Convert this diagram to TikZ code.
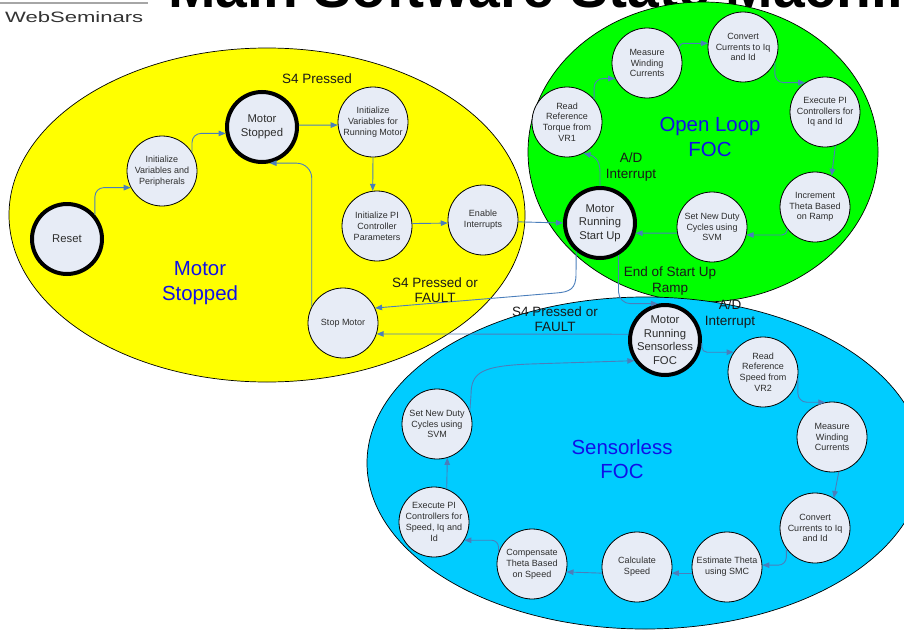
\documentclass[tikz,border=0pt]{standalone}
\usepackage{fontspec}
\setmainfont{Liberation Sans}
\usetikzlibrary{arrows.meta}
\definecolor{nodefill}{RGB}{231,236,246}
\definecolor{connc}{RGB}{74,126,187}
\definecolor{ylw}{RGB}{255,255,0}
\definecolor{grn}{RGB}{0,255,0}
\definecolor{sky}{RGB}{0,204,255}
\definecolor{regblue}{RGB}{16,16,232}
\definecolor{ntext}{RGB}{45,45,45}
\begin{document}
\begin{tikzpicture}[x=1pt,y=-1pt,
  st/.style={circle,draw=black,line width=0.8pt,fill=nodefill,minimum size=70pt,inner sep=-8pt,align=center,text=ntext,font=\fontsize{9}{10.8}\selectfont},
  kst/.style={st,line width=4pt,font=\fontsize{11.3}{13.5}\selectfont},
  conn/.style={draw=connc,line width=0.9pt,-{Triangle[length=7pt,width=5.5pt]}},
  rc/.style={rounded corners=#1},
  elab/.style={align=center,font=\fontsize{13.5}{15.5}\selectfont,text=black!90},
  reg/.style={align=center,font=\fontsize{20.4}{24.5}\selectfont,text=regblue},
  region/.style={draw=black,line width=0.7pt}]
\useasboundingbox (0,0) rectangle (904,629);
\clip (0,0) rectangle (904,629);
\fill[white] (0,0) rectangle (904,629);

% header
\draw[gray!70,line width=1.5pt] (0,3) -- (148,3);
\node[anchor=west,inner sep=0pt,text=black!80] (brand) at (5,17.5) {\scalebox{1.47}[1]{\fontsize{15}{15}\selectfont WebSeminars}};
\node[anchor=base west,inner sep=0pt,text=black,font=\fontsize{57}{60}\selectfont\bfseries] (title) at (168,8) {Main Software State Machine};

% regions
\path[region,fill=ylw] (267,215) ellipse [x radius=258,y radius=167];
\path[region,fill=grn] (703,152) ellipse [x radius=175,y radius=150];
\path[region,fill=sky] (645,463) ellipse [x radius=278,y radius=166];

\node[reg] (lstop) at (200,283) {Motor\\Stopped};
\node[reg] (lopen) at (710,137) {Open Loop\\FOC};
\node[reg] (lsens) at (622,459) {Sensorless\\FOC};

% motor stopped states
\node[kst] (reset) at (67,239) {Reset};
\node[st] (initp) at (162,171) {Initialize\\Variables and\\Peripherals};
\node[kst] (ms) at (262,127) {Motor\\Stopped};
\node[st] (initrun) at (373,122) {Initialize\\Variables for\\Running Motor};
\node[st] (initpi) at (377,226) {Initialize PI\\Controller\\Parameters};
\node[st] (enable) at (483,220) {Enable\\Interrupts};
\node[st] (stopm) at (343,323) {Stop Motor};

% open loop states
\node[kst] (mrsu) at (600,223) {Motor\\Running\\Start Up};
\node[st] (rt) at (567,122) {Read\\Reference\\Torque from\\VR1};
\node[st] (mw1) at (647,63) {Measure\\Winding\\Currents};
\node[st] (cv1) at (743,47) {Convert\\Currents to Iq\\and Id};
\node[st] (ex1) at (825,112) {Execute PI\\Controllers for\\Iq and Id};
\node[st] (inc) at (815,207) {Increment\\Theta Based\\on Ramp};
\node[st] (sd1) at (712,227) {Set New Duty\\Cycles using\\SVM};

% sensorless states
\node[kst] (mrsfoc) at (665,340) {Motor\\Running\\Sensorless\\FOC};
\node[st] (rrs) at (763,372) {Read\\Reference\\Speed from\\VR2};
\node[st] (mw2) at (832,437) {Measure\\Winding\\Currents};
\node[st] (cv2) at (815,528) {Convert\\Currents to Iq\\and Id};
\node[st] (et) at (727,567) {Estimate Theta\\using SMC};
\node[st] (cs) at (637,567) {Calculate\\Speed};
\node[st] (comp) at (532,564) {Compensate\\Theta Based\\on Speed};
\node[st] (epi2) at (434,522) {Execute PI\\Controllers for\\Speed, Iq and\\Id};
\node[st] (sd2) at (437,424) {Set New Duty\\Cycles using\\SVM};

% connectors: motor stopped
\draw[conn,rc=9pt] (reset.41) |- (initp.208);
\draw[conn,rc=9pt] (initp.32) |- (ms.190);
\draw[conn] (ms.3) -- (initrun.185);
\draw[conn] (initrun.south) -- (initpi.97);
\draw[conn] (initpi.4) -- (enable.185);
\draw[conn] (enable.-3) -- (mrsu.west);
\draw[conn,rc=15pt] (stopm.152) |- (ms.-78);
\draw[conn] (mrsu.230) -- (576,274) .. controls (576,289) and (570,292) .. (556,293) -- (stopm.25);

% connectors: open loop
\draw[conn] (mrsu.north) -- (600,172) .. controls (600,160) and (594,156) .. (rt.-62);
\draw[conn,rc=9pt] (rt.40) |- (mw1.206);
\draw[conn,rc=4pt] (mw1.24) |- (cv1.174);
\draw[conn,rc=9pt] (cv1.-26) |- (ex1.124);
\draw[conn] (ex1.-73) -- (inc.62);
\draw[conn,rc=5pt] (inc.218) |- (sd1.-13);
\draw[conn] (sd1.190) -- (mrsu.-16);
\draw[conn,rc=12pt] (mrsu.-60) |- (mrsfoc.101);

% connectors: sensorless
\draw[conn] (mrsfoc.171) -- (stopm.-18);
\draw[conn,rc=5pt] (mrsfoc.-5) |- (rrs.146);
\draw[conn,rc=9pt] (rrs.-10) |- (mw2.101);
\draw[conn] (mw2.-79) -- (cv2.58);
\draw[conn,rc=8pt] (cv2.216) |- (et.3);
\draw[conn] (et.190) -- (cs.-10);
\draw[conn] (cs.190) -- (comp.-13);
\draw[conn,rc=7pt] (comp.161) |- (epi2.-31);
\draw[conn] (epi2.69) -- (sd2.-73);
\draw[conn] (sd2.22) -- (471,395) .. controls (471,372) and (482,366) .. (530,364) -- (mrsfoc.214);

% edge labels
\node[elab] (l1) at (317,79) {S4 Pressed};
\node[elab] (l2) at (435,290) {S4 Pressed or\\FAULT};
\node[elab] (l3) at (555,319) {S4 Pressed or\\FAULT};
\node[elab] (l4) at (631,167) {A/D\\Interrupt};
\node[elab] (l5) at (670,281) {End of Start Up\\Ramp};
\node[elab] (l6) at (730,314) {A/D\\Interrupt};
\end{tikzpicture}
\end{document}
